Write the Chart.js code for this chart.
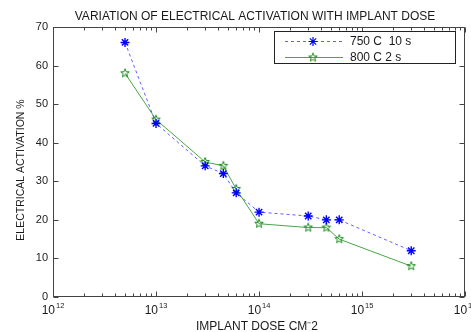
<!DOCTYPE html>
<html>
<head>
<meta charset="utf-8">
<script src="https://cdn.jsdelivr.net/npm/chart.js@4/dist/chart.umd.min.js"></script>
<style>
  html, body { margin: 0; padding: 0; background: #fff; }
  canvas { display: block; }
</style>
</head>
<body>
<canvas id="chartDose" width="471" height="332"></canvas>
<script>
// datos
const doses = [5e12, 1e13, 3e13, 4.5e13, 6e13, 1e14, 3e14, 4.5e14, 6e14, 3e15];
const act750 = [66, 45, 34, 32, 27, 22, 21, 20, 20, 12];
const act800 = [58, 46, 35, 34, 28, 19, 18, 18, 15, 8];
const xDecades = [12, 13, 14, 15, 16];
const yTicks = [0, 10, 20, 30, 40, 50, 60, 70];
const seriesNames = ["750 C  10 s", "800 C 2 s"];

const FONT = "'Liberation Sans', Arial, sans-serif";
const TXT = "#1a1a1a";
const BLUE = "#0000ff";
const GREEN = "#1a8a1a";

// marcador pentagrama (estilo matlab 'p')
const pentagram = (r, color) => {
  const c = document.createElement("canvas");
  const s = Math.ceil(r * 2 + 3);
  c.width = s;
  c.height = s;
  const g = c.getContext("2d");
  g.beginPath();
  for (let i = 0; i < 10; i++) {
    const rad = i % 2 === 0 ? r : r * 0.42;
    const a = -Math.PI / 2 + (i * Math.PI) / 5;
    const px = s / 2 + rad * Math.cos(a);
    const py = s / 2 + rad * Math.sin(a);
    i === 0 ? g.moveTo(px, py) : g.lineTo(px, py);
  }
  g.closePath();
  g.strokeStyle = color;
  g.lineWidth = 1;
  g.stroke();
  return c;
};
const greenStar = pentagram(4.5, GREEN);

const toPoints = (xs, ys) => xs.map((x, i) => ({ x, y: ys[i] }));

// ejes, titulos y leyenda a mano
const decor = {
  id: "decor",
  afterDraw(chart) {
    const ctx = chart.ctx;
    const a = chart.chartArea;
    const xs = chart.scales.x;
    const ys = chart.scales.y;
    ctx.save();

    // caja
    ctx.strokeStyle = "#444";
    ctx.lineWidth = 1;
    const L = Math.round(a.left) + 0.5, R = Math.round(a.right) - 0.5;
    const T = Math.round(a.top) + 0.5, B = Math.round(a.bottom) - 0.5;
    ctx.strokeRect(L, T, R - L, B - T);

    // ticks hacia adentro
    ctx.beginPath();
    xDecades.forEach((e, k) => {
      const px = Math.round(xs.getPixelForValue(10 ** e)) + 0.5;
      ctx.moveTo(px, B); ctx.lineTo(px, B - 5);
      ctx.moveTo(px, T); ctx.lineTo(px, T + 5);
      if (k < xDecades.length - 1) {
        for (let m = 2; m <= 9; m++) {
          const mx = Math.round(xs.getPixelForValue(m * 10 ** e)) + 0.5;
          ctx.moveTo(mx, B); ctx.lineTo(mx, B - 3);
          ctx.moveTo(mx, T); ctx.lineTo(mx, T + 3);
        }
      }
    });
    yTicks.forEach((v) => {
      const py = Math.round(ys.getPixelForValue(v)) + 0.5;
      ctx.moveTo(L, py); ctx.lineTo(L + 5, py);
      ctx.moveTo(R, py); ctx.lineTo(R - 5, py);
    });
    ctx.stroke();

    // etiquetas eje x: 10^n
    ctx.fillStyle = TXT;
    ctx.textBaseline = "alphabetic";
    ctx.textAlign = "left";
    xDecades.forEach((e) => {
      const px = xs.getPixelForValue(10 ** e);
      ctx.font = "12px " + FONT;
      const wb = ctx.measureText("10").width;
      ctx.font = "7.5px " + FONT;
      const we = ctx.measureText(String(e)).width;
      const x0 = px - (wb + we + 1) / 2;
      ctx.font = "12px " + FONT;
      ctx.fillText("10", x0, 314);
      ctx.font = "7.5px " + FONT;
      ctx.fillText(String(e), x0 + wb + 1, 307.5);
    });

    // titulo
    ctx.textAlign = "center";
    ctx.font = "12px " + FONT;
    ctx.fillText("VARIATION OF ELECTRICAL ACTIVATION WITH IMPLANT DOSE", 255, 20);

    // titulo eje x
    ctx.font = "12px " + FONT;
    ctx.fillText("IMPLANT DOSE CM\u207B2", 257, 330);

    // titulo eje y
    ctx.save();
    ctx.translate(24, 170);
    ctx.rotate(-Math.PI / 2);
    ctx.font = "10.5px " + FONT;
    ctx.fillText("ELECTRICAL ACTIVATION %", 0, 0);
    ctx.restore();

    // leyenda
    ctx.fillStyle = "#fff";
    ctx.fillRect(274.5, 31.5, 181, 32);
    ctx.strokeStyle = "#222";
    ctx.strokeRect(274.5, 31.5, 181, 32);
    const rows = [41, 57];
    chart.data.datasets.forEach((ds, i) => {
      const y = rows[i] + 0.5;
      ctx.beginPath();
      ctx.strokeStyle = ds.borderColor;
      ctx.lineWidth = ds.borderWidth;
      ctx.setLineDash(ds.borderDash || []);
      ctx.moveTo(285, y);
      ctx.lineTo(343, y);
      ctx.stroke();
      ctx.setLineDash([]);
      if (ds.pointStyle === "star") {
        ctx.beginPath();
        ctx.strokeStyle = ds.pointBorderColor;
        ctx.lineWidth = 1.2;
        const r = ds.pointRadius;
        ctx.moveTo(313 - r, y); ctx.lineTo(313 + r, y);
        ctx.moveTo(313, y - r); ctx.lineTo(313, y + r);
        const d = r * 0.7;
        ctx.moveTo(313 - d, y - d); ctx.lineTo(313 + d, y + d);
        ctx.moveTo(313 - d, y + d); ctx.lineTo(313 + d, y - d);
        ctx.stroke();
      } else {
        ctx.drawImage(ds.pointStyle, 313 - ds.pointStyle.width / 2, y - ds.pointStyle.height / 2);
      }
      ctx.fillStyle = TXT;
      ctx.textAlign = "left";
      ctx.textBaseline = "middle";
      ctx.font = "12px " + FONT;
      ctx.fillText(ds.label, 350, y + 0.5);
    });

    ctx.restore();
  },
};

new Chart(document.getElementById("chartDose").getContext("2d"), {
  type: "line",
  data: {
    datasets: [
      {
        label: seriesNames[0],
        data: toPoints(doses, act750),
        borderColor: "rgba(40,40,255,0.75)",
        borderWidth: 1,
        borderDash: [3, 3],
        pointStyle: "star",
        pointRadius: 4.5,
        pointBorderColor: BLUE,
        pointBorderWidth: 1.4,
        fill: false,
        tension: 0,
      },
      {
        label: seriesNames[1],
        data: toPoints(doses, act800),
        borderColor: "rgba(40,150,40,0.85)",
        borderWidth: 1,
        pointStyle: greenStar,
        pointRadius: 4.5,
        fill: false,
        tension: 0,
      },
    ],
  },
  options: {
    responsive: false,
    animation: false,
    devicePixelRatio: 1,
    layout: { padding: { top: 27, right: 5, left: 0, bottom: 0 } },
    plugins: {
      legend: { display: false },
      title: { display: false },
      tooltip: { enabled: false },
    },
    scales: {
      x: {
        type: "logarithmic",
        min: 1e12,
        max: 1e16,
        afterBuildTicks: (s) => {
          s.ticks = xDecades.map((e) => ({ value: 10 ** e }));
        },
        afterFit: (s) => { s.height = 35; },
        ticks: { display: false },
        grid: { display: false, drawTicks: false },
        border: { display: false },
      },
      y: {
        type: "linear",
        min: 0,
        max: 70,
        afterBuildTicks: (s) => {
          s.ticks = yTicks.map((v) => ({ value: v }));
        },
        afterFit: (s) => { s.width = 53; },
        ticks: {
          color: TXT,
          padding: 5,
          font: { family: FONT, size: 11 },
        },
        grid: { display: false, drawTicks: false },
        border: { display: false },
      },
    },
  },
  plugins: [decor],
});
</script>
</body>
</html>
